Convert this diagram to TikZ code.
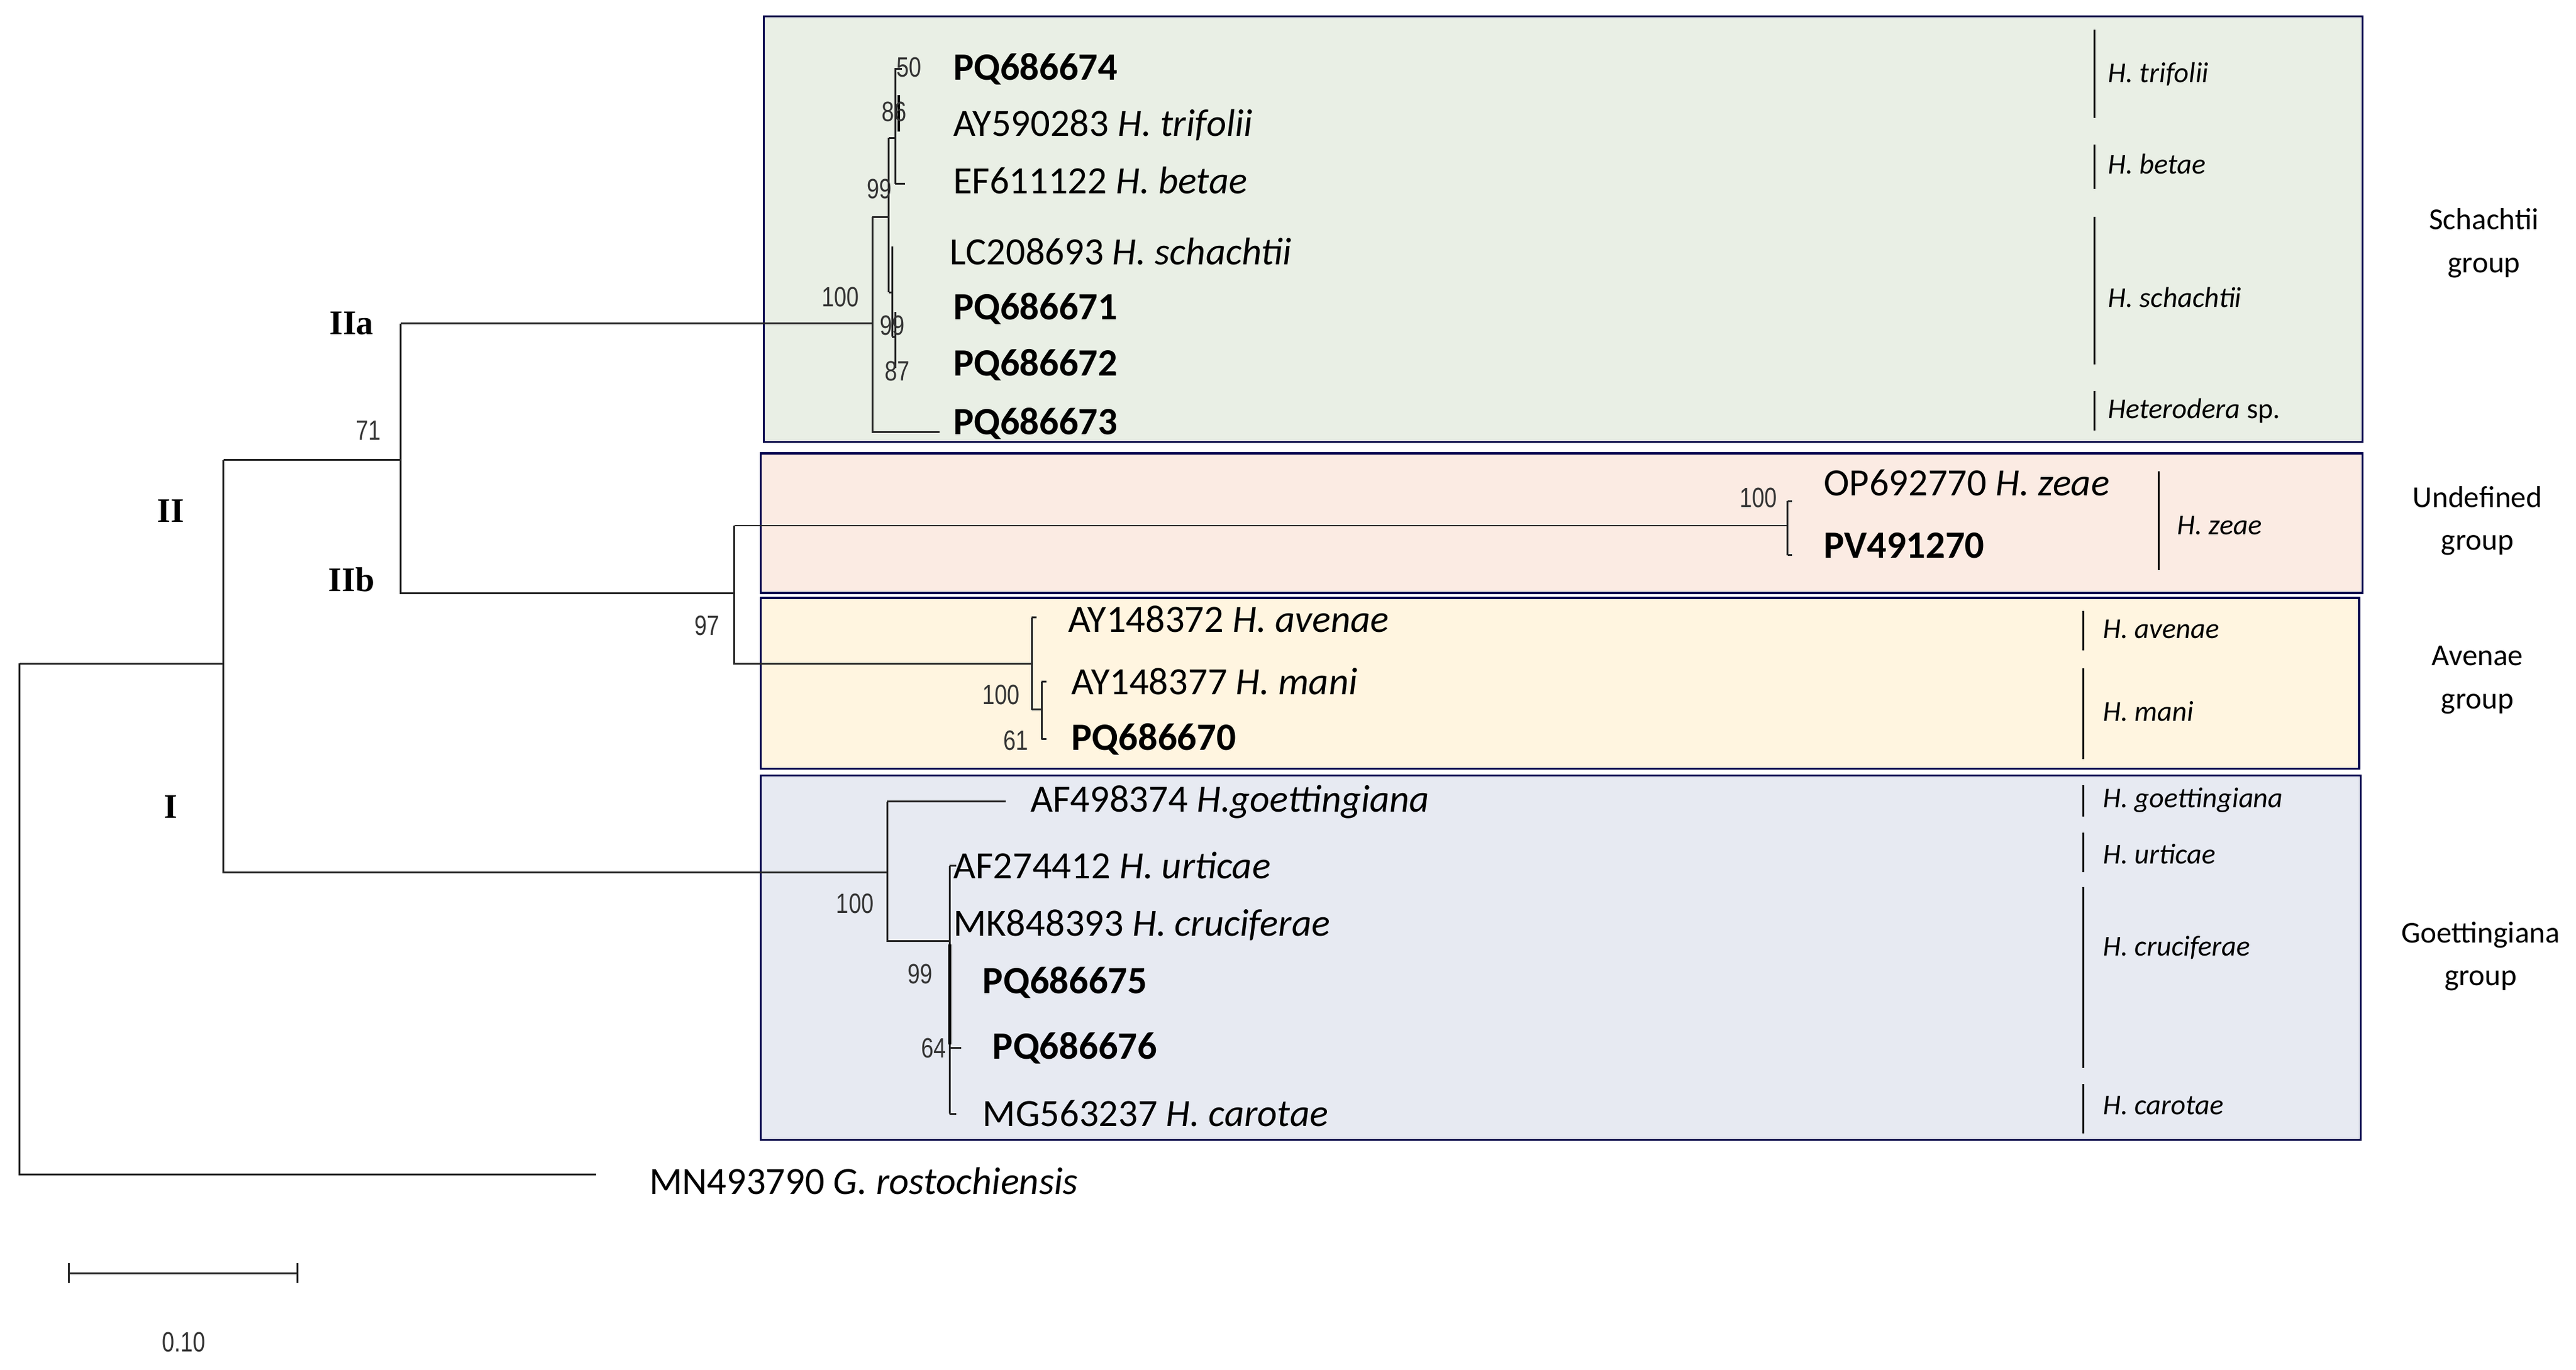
\documentclass[tikz,border=0pt]{standalone}
\usepackage{fontspec}
\setmainfont{Carlito}
\newfontfamily\numf[FakeStretch=0.8]{Liberation Sans}
\newfontfamily\romf{Liberation Serif}
\begin{document}
\begin{tikzpicture}[x=1pt,y=-1pt,
  br/.style={line width=1.1pt,black!85},
  box/.style={draw=blue!30!black,line width=1.3pt},
  tx/.style={anchor=west,inner sep=0pt,font=\fontsize{23.5}{25}\selectfont},
  bs/.style={anchor=east,inner sep=0pt,font=\numf\fontsize{17}{19}\selectfont,text=black!80},
  sp/.style={anchor=west,inner sep=0pt,font=\fontsize{17.5}{19}\selectfont\itshape},
  grp/.style={align=center,inner sep=0pt,font=\fontsize{18.5}{26}\selectfont},
  rn/.style={inner sep=0pt,font=\romf\bfseries\fontsize{21}{23}\selectfont},
  vl/.style={line width=1.1pt}]
\useasboundingbox (0,0) rectangle (1568,834);
% boxes
\draw[box,fill={rgb,255:red,233;green,239;blue,229}] (465,10) rectangle (1438,269);
\draw[box,fill={rgb,255:red,251;green,235;blue,227}] (463,276) rectangle (1438,361);
\draw[box,fill={rgb,255:red,255;green,245;blue,224}] (463,364) rectangle (1436,468);
\draw[box,fill={rgb,255:red,231;green,234;blue,242}] (463,472) rectangle (1437,694);
% root
\draw[br] (12,404) -- (12,715) -- (363,715);
\draw[br] (12,404) -- (136,404);
\draw[br] (136,280) -- (136,531) -- (540,531);
\draw[br] (136,280) -- (244,280);
\draw[br] (244,197) -- (244,361) -- (447,361);
\draw[br] (244,197) -- (531,197);
% Schachtii clade
\draw[br] (531,132) -- (531,263) -- (572,263);
\draw[br] (531,132) -- (541,132);
\draw[br] (541,84) -- (541,178);
\draw[br] (541,84) -- (545,84);
\draw[br] (545,112) -- (545,42) -- (549,42);
\draw[br] (545,112) -- (551,112);
\draw[line width=1.6pt] (547,58) -- (547,80);
\draw[br] (541,178) -- (543,178);
\draw[br] (543,150) -- (543,205);
\draw[br] (543,205) -- (545,205) (545,190) -- (545,224);
% IIb
\draw[br] (447,320) -- (447,404) -- (628,404);
\draw[br] (447,320) -- (1088,320);
\draw[br] (1088,305) -- (1088,338);
\draw[br] (1088,305) -- (1091,305) (1088,338) -- (1091,338);
\draw[br] (628,376) -- (628,432);
\draw[br] (628,376) -- (631,376) (628,432) -- (634,432);
\draw[br] (634,415) -- (634,450);
\draw[br] (634,415) -- (637,415) (634,450) -- (637,450);
% Goettingiana
\draw[br] (540,488) -- (540,573) -- (578,573);
\draw[br] (540,488) -- (612,488);
\draw[br] (578,527) -- (578,678);
\draw[line width=2pt] (578,575) -- (578,636);
\draw[br] (578,527) -- (582,527) (578,678) -- (582,678) (578,638) -- (585,638);
% taxa
\node[tx] (t1) at (580,42) {\textbf{PQ686674}};
\node[tx] (t2) at (580,76) {AY590283 \textit{H. trifolii}};
\node[tx] (t3) at (580,110) {EF611122 \textit{H. betae}};
\node[tx] (t4) at (578,153) {LC208693 \textit{H. schachtii}};
\node[tx] (t5) at (580,188) {\textbf{PQ686671}};
\node[tx] (t6) at (580,222) {\textbf{PQ686672}};
\node[tx] (t7) at (580,258) {\textbf{PQ686673}};
\node[tx] (t8) at (1110,294) {OP692770 \textit{H. zeae}};
\node[tx] (t9) at (1110,332) {\textbf{PV491270}};
\node[tx] (t10) at (650,377) {AY148372 \textit{H. avenae}};
\node[tx] (t11) at (652,415) {AY148377 \textit{H. mani}};
\node[tx] (t12) at (652,450) {\textbf{PQ686670}};
\node[tx] (t13) at (627,488) {AF498374 \textit{H.goettingiana}};
\node[tx] (t14) at (580,527) {AF274412 \textit{H. urticae}};
\node[tx] (t15) at (580,563) {MK848393 \textit{H. cruciferae}};
\node[tx] (t16) at (598,598) {\textbf{PQ686675}};
\node[tx] (t17) at (604,638) {\textbf{PQ686676}};
\node[tx] (t18) at (598,678) {MG563237 \textit{H. carotae}};
\node[tx] (t19) at (395,719) {MN493790 \textit{G. rostochiensis}};
% bootstrap
\node[bs] (b1) at (561,41) {50};
\node[bs] (b2) at (552,68) {86};
\node[bs] (b3) at (543,115) {99};
\node[bs] (b4) at (523,181) {100};
\node[bs] (b5) at (551,198) {99};
\node[bs] (b6) at (554,226) {87};
\node[bs] (b7) at (232,262) {71};
\node[bs] (b8) at (438,381) {97};
\node[bs] (b9) at (1082,303) {100};
\node[bs] (b10) at (621,423) {100};
\node[bs] (b11) at (626,451) {61};
\node[bs] (b12) at (532,550) {100};
\node[bs] (b13) at (568,593) {99};
\node[bs] (b14) at (576,638) {64};
% roman
\node[rn] (r1) at (214,197) {IIa};
\node[rn] (r2) at (104,311) {II};
\node[rn] (r3) at (214,353) {IIb};
\node[rn] (r4) at (104,491) {I};
% right species lines
\draw[vl] (1275,18) -- (1275,72) (1275,88) -- (1275,115) (1275,132) -- (1275,222) (1275,238) -- (1275,262);
\draw[vl] (1314,287) -- (1314,347);
\draw[vl] (1268,372) -- (1268,396) (1268,407) -- (1268,462);
\draw[vl] (1268,478) -- (1268,497) (1268,507) -- (1268,531) (1268,540) -- (1268,650) (1268,660) -- (1268,690);
\node[sp] (s1) at (1283,45) {H. trifolii};
\node[sp] (s2) at (1283,100) {H. betae};
\node[sp] (s3) at (1283,181) {H. schachtii};
\node[sp] (s4) at (1283,250) {Heterodera\upshape{} sp.};
\node[sp] (s5) at (1325,320) {H. zeae};
\node[sp] (s6) at (1280,383) {H. avenae};
\node[sp] (s7) at (1280,433) {H. mani};
\node[sp] (s8) at (1280,487) {H. goettingiana};
\node[sp] (s9) at (1280,520) {H. urticae};
\node[sp] (s10) at (1280,577) {H. cruciferae};
\node[sp] (s11) at (1280,673) {H. carotae};
% groups
\node[grp] (g1) at (1512,148) {Schachtii\\group};
\node[grp] (g2) at (1508,317) {Undefined\\group};
\node[grp] (g3) at (1508,414) {Avenae\\group};
\node[grp] (g4) at (1510,582) {Goettingiana\\group};
% scale bar
\draw[br] (42,775) -- (181,775) (42,769) -- (42,781) (181,769) -- (181,781);
\node[bs,anchor=center] (sc) at (112,817) {0.10};
\end{tikzpicture}
\end{document}
